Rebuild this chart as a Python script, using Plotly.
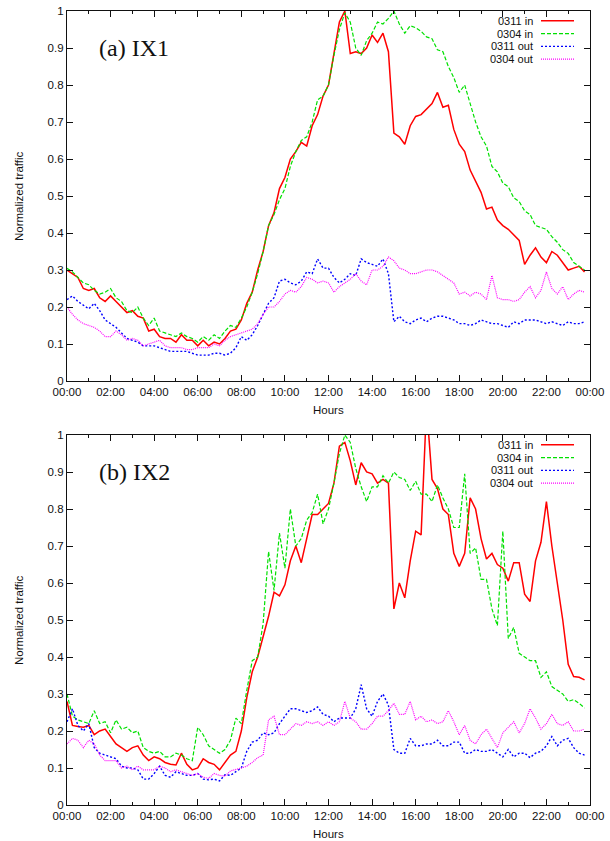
import plotly.graph_objects as go

# ---------------- data (15-minute samples, hours 0..23.75) ----------------
hours = [i * 0.25 for i in range(96)]

x_tickvals = [0, 2, 4, 6, 8, 10, 12, 14, 16, 18, 20, 22, 24]
x_ticktext = ["00:00", "02:00", "04:00", "06:00", "08:00", "10:00", "12:00",
              "14:00", "16:00", "18:00", "20:00", "22:00", "00:00"]

series_names = ["0311 in", "0304 in", "0311 out", "0304 out"]

# (a) IX1
ix1_0311_in = [
    0.30, 0.29, 0.28, 0.25, 0.245, 0.25, 0.225, 0.215, 0.23, 0.215, 0.20, 0.185,
    0.19, 0.175, 0.17, 0.135, 0.14, 0.12, 0.115, 0.115, 0.105, 0.125, 0.11, 0.11,
    0.095, 0.11, 0.095, 0.105, 0.10, 0.115, 0.135, 0.14, 0.165, 0.21, 0.24, 0.30,
    0.35, 0.42, 0.455, 0.52, 0.55, 0.60, 0.62, 0.645, 0.635, 0.69, 0.72, 0.77,
    0.80, 0.89, 0.97, 1.00, 0.885, 0.89, 0.885, 0.90, 0.935, 0.915, 0.94, 0.89,
    0.67, 0.66, 0.64, 0.69, 0.715, 0.72, 0.735, 0.75, 0.78, 0.74, 0.745, 0.68,
    0.64, 0.62, 0.57, 0.54, 0.51, 0.465, 0.47, 0.435, 0.42, 0.41, 0.395, 0.38,
    0.315, 0.34, 0.36, 0.335, 0.32, 0.35, 0.34, 0.32, 0.30, 0.305, 0.31, 0.295]
ix1_0304_in = [
    0.305, 0.295, 0.28, 0.265, 0.26, 0.245, 0.235, 0.24, 0.25, 0.225, 0.215, 0.19,
    0.185, 0.20, 0.17, 0.15, 0.17, 0.135, 0.13, 0.125, 0.12, 0.13, 0.12, 0.115,
    0.105, 0.12, 0.11, 0.125, 0.115, 0.135, 0.15, 0.145, 0.17, 0.20, 0.24, 0.29,
    0.35, 0.42, 0.45, 0.49, 0.52, 0.58, 0.62, 0.65, 0.66, 0.70, 0.76, 0.77,
    0.80, 0.88, 0.95, 0.995, 0.97, 0.90, 0.88, 0.92, 0.94, 0.97, 0.965, 0.98,
    1.00, 0.965, 0.94, 0.96, 0.955, 0.945, 0.93, 0.925, 0.895, 0.89, 0.85, 0.82,
    0.78, 0.80, 0.75, 0.70, 0.66, 0.635, 0.58, 0.565, 0.535, 0.525, 0.495, 0.485,
    0.46, 0.45, 0.42, 0.415, 0.41, 0.39, 0.375, 0.355, 0.345, 0.32, 0.31, 0.30]
ix1_0311_out = [
    0.22, 0.23, 0.215, 0.205, 0.195, 0.21, 0.19, 0.165, 0.155, 0.145, 0.13, 0.115,
    0.11, 0.105, 0.095, 0.095, 0.095, 0.09, 0.085, 0.08, 0.08, 0.08, 0.08, 0.075,
    0.07, 0.07, 0.07, 0.075, 0.075, 0.07, 0.075, 0.09, 0.12, 0.11, 0.125, 0.15,
    0.18, 0.21, 0.225, 0.27, 0.275, 0.265, 0.26, 0.27, 0.295, 0.29, 0.33, 0.305,
    0.305, 0.28, 0.265, 0.275, 0.29, 0.285, 0.33, 0.32, 0.315, 0.31, 0.33, 0.29,
    0.16, 0.175, 0.16, 0.155, 0.165, 0.17, 0.16, 0.17, 0.175, 0.175, 0.17, 0.165,
    0.155, 0.155, 0.15, 0.155, 0.165, 0.16, 0.155, 0.155, 0.15, 0.145, 0.16, 0.155,
    0.165, 0.165, 0.165, 0.16, 0.155, 0.16, 0.155, 0.15, 0.16, 0.155, 0.155, 0.16]
ix1_0304_out = [
    0.20, 0.18, 0.165, 0.155, 0.15, 0.145, 0.135, 0.12, 0.12, 0.135, 0.125, 0.11,
    0.115, 0.11, 0.095, 0.10, 0.105, 0.11, 0.095, 0.09, 0.09, 0.09, 0.085, 0.085,
    0.09, 0.09, 0.09, 0.10, 0.095, 0.11, 0.12, 0.125, 0.13, 0.135, 0.14, 0.155,
    0.18, 0.20, 0.20, 0.215, 0.235, 0.245, 0.24, 0.255, 0.28, 0.275, 0.265, 0.27,
    0.265, 0.24, 0.255, 0.265, 0.275, 0.29, 0.27, 0.26, 0.30, 0.30, 0.31, 0.335,
    0.325, 0.305, 0.30, 0.29, 0.29, 0.295, 0.30, 0.30, 0.295, 0.285, 0.275, 0.265,
    0.235, 0.24, 0.23, 0.24, 0.235, 0.22, 0.285, 0.225, 0.22, 0.22, 0.215, 0.22,
    0.24, 0.255, 0.225, 0.245, 0.295, 0.25, 0.235, 0.255, 0.22, 0.235, 0.245, 0.24]

# (b) IX2
ix2_0311_in = [
    0.28, 0.215, 0.212, 0.21, 0.215, 0.19, 0.20, 0.205, 0.185, 0.165, 0.155, 0.145,
    0.155, 0.16, 0.135, 0.12, 0.13, 0.125, 0.115, 0.11, 0.108, 0.14, 0.11, 0.095,
    0.10, 0.125, 0.115, 0.11, 0.095, 0.115, 0.135, 0.145, 0.20, 0.29, 0.36, 0.40,
    0.455, 0.51, 0.575, 0.565, 0.595, 0.66, 0.70, 0.655, 0.72, 0.785, 0.785, 0.80,
    0.815, 0.87, 0.97, 0.98, 0.93, 0.865, 0.925, 0.90, 0.895, 0.87, 0.88, 0.87,
    0.53, 0.60, 0.56, 0.66, 0.74, 0.73, 1.08, 0.88, 0.855, 0.80, 0.785, 0.68,
    0.645, 0.68, 0.83, 0.80, 0.72, 0.665, 0.68, 0.65, 0.64, 0.605, 0.655, 0.655,
    0.57, 0.55, 0.66, 0.71, 0.82, 0.70, 0.60, 0.50, 0.38, 0.347, 0.345, 0.338]
ix2_0304_in = [
    0.30, 0.24, 0.23, 0.225, 0.22, 0.255, 0.22, 0.225, 0.195, 0.23, 0.205, 0.21,
    0.195, 0.20, 0.155, 0.145, 0.14, 0.145, 0.13, 0.13, 0.14, 0.135, 0.125, 0.12,
    0.21, 0.19, 0.16, 0.15, 0.14, 0.15, 0.175, 0.235, 0.22, 0.31, 0.39, 0.40,
    0.49, 0.685, 0.58, 0.735, 0.64, 0.80, 0.70, 0.72, 0.77, 0.79, 0.84, 0.76,
    0.80, 0.87, 0.95, 1.00, 0.98, 0.91, 0.86, 0.82, 0.86, 0.86, 0.89, 0.87,
    0.90, 0.885, 0.88, 0.85, 0.875, 0.84, 0.84, 0.82, 0.865, 0.83, 0.80, 0.75,
    0.75, 0.895, 0.68, 0.695, 0.61, 0.61, 0.53, 0.485, 0.74, 0.45, 0.48, 0.41,
    0.40, 0.39, 0.39, 0.345, 0.36, 0.32, 0.31, 0.30, 0.28, 0.285, 0.275, 0.262]
ix2_0311_out = [
    0.225, 0.26, 0.215, 0.20, 0.22, 0.155, 0.14, 0.135, 0.13, 0.125, 0.105, 0.10,
    0.10, 0.095, 0.07, 0.07, 0.085, 0.105, 0.08, 0.075, 0.09, 0.085, 0.08, 0.08,
    0.085, 0.07, 0.068, 0.07, 0.065, 0.082, 0.08, 0.09, 0.10, 0.145, 0.17, 0.175,
    0.195, 0.19, 0.195, 0.22, 0.24, 0.26, 0.26, 0.255, 0.25, 0.255, 0.265, 0.245,
    0.24, 0.225, 0.235, 0.235, 0.235, 0.26, 0.325, 0.26, 0.24, 0.28, 0.30, 0.27,
    0.15, 0.14, 0.14, 0.18, 0.16, 0.16, 0.165, 0.165, 0.175, 0.16, 0.16, 0.17,
    0.17, 0.14, 0.14, 0.15, 0.145, 0.145, 0.15, 0.14, 0.13, 0.15, 0.13, 0.14,
    0.14, 0.128, 0.14, 0.145, 0.16, 0.185, 0.16, 0.175, 0.18, 0.155, 0.14, 0.135]
ix2_0304_out = [
    0.165, 0.18, 0.175, 0.155, 0.175, 0.165, 0.135, 0.12, 0.12, 0.12, 0.10, 0.105,
    0.095, 0.105, 0.095, 0.095, 0.095, 0.105, 0.10, 0.09, 0.095, 0.09, 0.085, 0.08,
    0.085, 0.075, 0.072, 0.085, 0.08, 0.078, 0.092, 0.095, 0.10, 0.105, 0.115, 0.128,
    0.135, 0.23, 0.24, 0.19, 0.19, 0.205, 0.22, 0.215, 0.225, 0.22, 0.225, 0.215,
    0.225, 0.215, 0.225, 0.28, 0.235, 0.225, 0.205, 0.205, 0.22, 0.24, 0.24, 0.255,
    0.275, 0.245, 0.245, 0.28, 0.23, 0.24, 0.225, 0.23, 0.22, 0.225, 0.255, 0.225,
    0.19, 0.215, 0.175, 0.165, 0.19, 0.205, 0.18, 0.155, 0.195, 0.21, 0.225, 0.195,
    0.22, 0.26, 0.235, 0.205, 0.22, 0.245, 0.22, 0.215, 0.225, 0.20, 0.20, 0.205]

panels = [
    ("(a) IX1", [ix1_0311_in, ix1_0304_in, ix1_0311_out, ix1_0304_out]),
    ("(b) IX2", [ix2_0311_in, ix2_0304_in, ix2_0311_out, ix2_0304_out]),
]

# ---------------- styling ----------------
W, H = 610, 841
colors = ["#ff0000", "#00e000", "#0000ff", "#ff00ff"]
dashes = ["solid", "4px,2px", "2px,2px", "1px,1px"]
widths = [1.5, 1.2, 1.4, 1.2]

# pixel boxes of the two plot areas: (left, right, top, bottom)
boxes = [(67, 590, 11, 381), (67, 590, 435, 805)]


def px(x):
    return x / W


def py(y):
    return 1 - y / H


fig = go.Figure()
annotations = []
shapes = []
font_fam = "Liberation Sans, Arial, sans-serif"

for k, (label, data) in enumerate(panels):
    xa = "x" if k == 0 else "x2"
    ya = "y" if k == 0 else "y2"
    for name, vals, c, d, w in zip(series_names, data, colors, dashes, widths):
        fig.add_trace(go.Scatter(x=hours, y=vals, mode="lines", name=name,
                                 line=dict(color=c, dash=d, width=w),
                                 xaxis=xa, yaxis=ya, showlegend=False))
    l, r, t, b = boxes[k]
    axis_common = dict(showline=True, linecolor="#111", linewidth=1.3, mirror="ticks",
                       ticks="inside", tickcolor="#111", showgrid=False, zeroline=False,
                       automargin=False, tickfont=dict(size=11.5, color="#111", family=font_fam))
    xkey = "xaxis" if k == 0 else "xaxis2"
    ykey = "yaxis" if k == 0 else "yaxis2"
    fig.update_layout(**{
        xkey: dict(domain=[px(l), px(r)], range=[0, 24], anchor=ya,
                   tickvals=x_tickvals, ticktext=x_ticktext, ticklen=6, tickwidth=1.2,
                   minor=dict(dtick=1, tick0=0, ticks="inside", ticklen=3, tickcolor="#111",
                              showgrid=False),
                   **axis_common),
        ykey: dict(domain=[py(b), py(t)], range=[0, 1], anchor=xa, dtick=0.1, tick0=0,
                   ticklen=6, tickwidth=1.2, **axis_common),
    })
    # panel label
    annotations.append(dict(x=px(97), y=py(t + 37), xref="paper", yref="paper",
                            text=label, showarrow=False, xanchor="left", yanchor="middle",
                            font=dict(family="Liberation Serif, Times New Roman, serif",
                                      size=24, color="#111")))
    # axis titles
    annotations.append(dict(x=px((l + r) / 2), y=py(b + 29), xref="paper", yref="paper",
                            text="Hours", showarrow=False, xanchor="center", yanchor="middle",
                            font=dict(family=font_fam, size=11.5, color="#111")))
    annotations.append(dict(x=px(19), y=py((t + b) / 2), xref="paper", yref="paper",
                            text="Normalized traffic", showarrow=False, textangle=-90,
                            xanchor="center", yanchor="middle",
                            font=dict(family=font_fam, size=11.5, color="#111")))
    # gnuplot-style key: text right-aligned, line sample on its right
    for j, (name, c, d, w) in enumerate(zip(series_names, colors, dashes, widths)):
        yy = t + 9.8 + j * 12.8
        annotations.append(dict(x=px(534), y=py(yy), xref="paper", yref="paper",
                                text=name, showarrow=False, xanchor="right", yanchor="middle",
                                borderpad=0,
                                font=dict(family=font_fam, size=11, color="#111")))
        shapes.append(dict(type="line", xref="paper", yref="paper",
                           x0=px(541), x1=px(574), y0=py(yy), y1=py(yy),
                           line=dict(color=c, dash=d, width=w)))

fig.update_layout(width=W, height=H, margin=dict(l=0, r=0, t=0, b=0),
                  paper_bgcolor="white", plot_bgcolor="white",
                  annotations=annotations, shapes=shapes, showlegend=False,
                  font=dict(family=font_fam, color="#111"))

fig.write_html("out.html",
               config={"displayModeBar": False},
               post_script="document.body.style.margin='0px';"
                           "document.body.style.overflow='hidden';")
